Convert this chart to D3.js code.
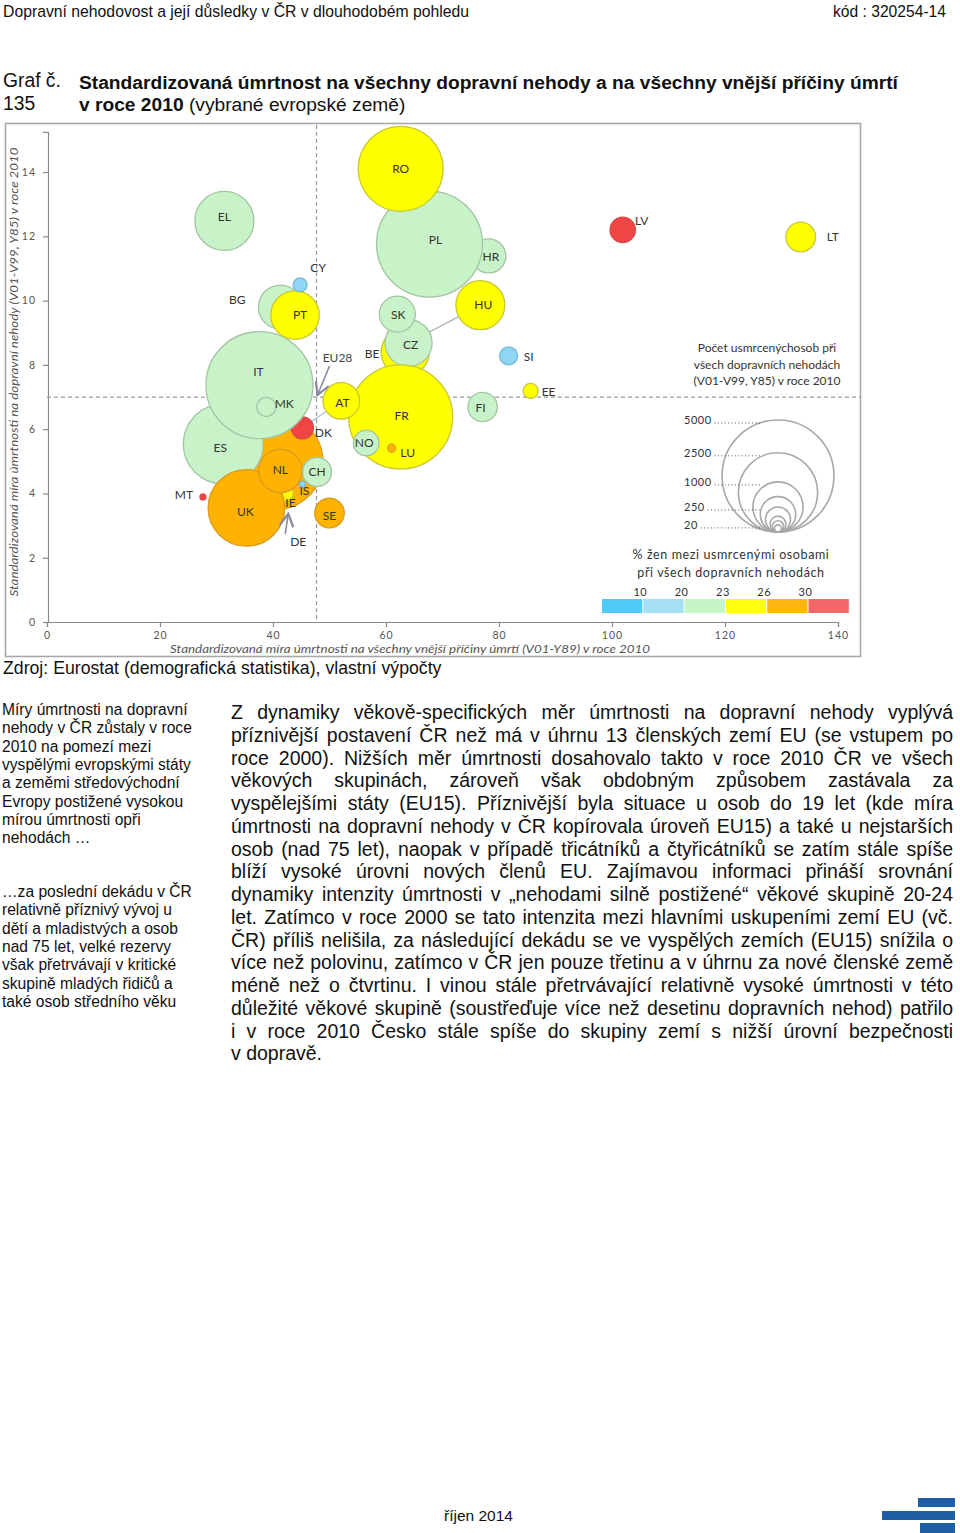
<!DOCTYPE html>
<html><head><meta charset="utf-8">
<script src="https://cdn.jsdelivr.net/npm/d3@7"></script>
<style>
html,body{margin:0;padding:0;background:#fff;}
svg{display:block;}
</style></head>
<body>
<svg id="page" width="960" height="1533"></svg>
<script>
// ---------------- DATA ----------------
const codes = ["HR","PL","RO","EL","DE","IE","DK","ES","IT","MK","BG","PT","CY","UK","NL","IS","CH","SE","MT","BE","CZ","SK","HU","FR","AT","NO","LU","FI","SI","EE","LV","LT"];
// x: standardised mortality, all external causes (V01-Y89)
const externalMortality = [78.2,67.7,62.6,31.4,40.4,42.2,45.2,31.2,37.6,38.8,41.3,43.9,44.8,35.3,41.3,45.2,47.8,50.0,27.6,63.4,64.0,62.0,76.7,62.6,52.1,56.5,61.0,77.1,81.7,85.6,101.9,133.4];
// y: standardised mortality, traffic accidents (V01-V99, Y85)
const roadMortality = [11.39,11.76,14.1,12.48,4.98,4.01,6.04,5.54,7.37,6.69,9.8,9.55,10.49,3.55,4.70,4.29,4.67,3.39,3.89,8.4,8.68,9.58,9.86,6.38,6.88,5.57,5.41,6.69,8.28,7.19,12.2,11.98];
// bubble size: number of road deaths 2010
const roadDeaths = [460,4480,2880,1390,3650,100,195,2550,4560,145,770,940,78,2340,750,14,335,350,14,920,880,517,957,4310,534,261,25,345,129,90,257,349];
// colour: % women among road deaths
const womenPct = [21.5,21.5,24.5,21.5,28,24.5,32,21.5,21.5,21.5,21.5,24.5,15,28,28,15,21.5,28,32,24.5,21.5,21.5,24.5,24.5,24.5,21.5,28,21.5,15,24.5,32,24.5];
const euX = 47.7, euY = 7.0; // EU28 reference
const xTicks = [0,20,40,60,80,100,120,140];
const yTicks = [0,2,4,6,8,10,12,14];
const sizeLegendValues = [5000,2500,1000,500,250,100,50,20];
const sizeLegendLabels = [5000,2500,1000,250,20];
const colorThresholds = [10,20,23,26,30];
const connectors = [["HU","CZ"],["DK","AT"]];

// ---------------- STYLE / LAYOUT ----------------
const fills   = ["#4cc6f2","#8fd6f5","#c8f3c8","#ffff00","#ffb300","#f04545"];
const strokes = ["#3aa8d8","#7ab8d8","#a3c4a3","#c8c832","#dc9a22","#d84a4a"];
const legendFills = ["#4fc9f5","#a6def5","#c5f5c5","#ffff10","#ffb610","#f26868"];
const labelOffsets = {
  BG:[-43,-7], CY:[18,-17], MK:[18,-3], DK:[21,5], IS:[2,7], IE:[5,10], MT:[-19,-2],
  DE:[23,80], LU:[16,5], BE:[-33,2], SI:[20,1], EE:[18,1], LV:[19,-9], LT:[32,0],
  IT:[-1,-13], PL:[6,-4], HR:[2,1], UK:[-1,4], PT:[5,0], EL:[0,-4], SE:[0,3], ES:[-3,4],
  NL:[0,-1], AT:[1,2], FR:[1,-1], CZ:[2,2], SK:[1,1], HU:[3,0], FI:[-2,1], NO:[-2,0]
};
const FN = "Lato, 'Open Sans', sans-serif";
const AR = "'Liberation Sans', Arial, sans-serif";

const svg = d3.select("#page");

// header (narrow face emulated by compressing Liberation Sans)
svg.append("text").attr("x",3).attr("y",17).attr("font-family",AR).attr("font-size",17).attr("fill","#111")
  .attr("textLength",466).attr("lengthAdjust","spacingAndGlyphs")
  .text("Dopravní nehodovost a její důsledky v ČR v dlouhodobém pohledu");
svg.append("text").attr("x",833).attr("y",17).attr("font-family",AR).attr("font-size",17).attr("fill","#111")
  .attr("textLength",113).attr("lengthAdjust","spacingAndGlyphs")
  .text("kód : 320254-14");

// title
svg.append("text").attr("x",3).attr("y",87).attr("font-family",AR).attr("font-size",19.3).attr("fill","#111").text("Graf č.");
svg.append("text").attr("x",3).attr("y",110).attr("font-family",AR).attr("font-size",19.3).attr("fill","#111").text("135");
svg.append("text").attr("x",79).attr("y",89).attr("font-family",AR).attr("font-size",19.2).attr("font-weight","bold").attr("fill","#111")
  .text("Standardizovaná úmrtnost na všechny dopravní nehody a na všechny vnější příčiny úmrtí");
const t2 = svg.append("text").attr("x",79).attr("y",111).attr("font-family",AR).attr("font-size",19.2).attr("fill","#111");
t2.append("tspan").attr("font-weight","bold").text("v roce 2010");
t2.append("tspan").text(" (vybrané evropské země)");

// chart frame
svg.append("rect").attr("x",5.5).attr("y",123.5).attr("width",855).attr("height",533)
  .attr("fill","none").attr("stroke","#a8a8a8").attr("stroke-width",1.6);

// scales
const x = d3.scaleLinear().domain([0,140]).range([47,838]);
const y = d3.scaleLinear().domain([0,15.25]).range([622,131.9]);
const r = d3.scaleSqrt().domain([0,5000]).range([0,56]);
const col = d3.scaleThreshold().domain(colorThresholds).range(fills);
const colS = d3.scaleThreshold().domain(colorThresholds).range(strokes);

// axes
const gx = svg.append("g").attr("transform",`translate(0,${y(0)})`)
  .call(d3.axisBottom(x).tickValues(xTicks).tickSize(5).tickPadding(5).tickFormat(d3.format("d")));
const gy = svg.append("g").attr("transform",`translate(${x(0)+1},0)`)
  .call(d3.axisLeft(y).tickValues(yTicks).tickSize(5).tickPadding(7).tickFormat(d3.format("d")));
[gx,gy].forEach(g=>{
  g.selectAll("path,line").attr("stroke","#8a8a8a").attr("stroke-width",1.2);
  g.selectAll("text").attr("font-family",FN).attr("font-size",10.5).attr("fill","#555").attr("letter-spacing","1px");
});

// axis titles
svg.append("text").attr("x",410).attr("y",653).attr("text-anchor","middle").attr("font-family",FN)
  .attr("font-style","italic").attr("font-size",11.5).attr("fill","#555")
  .attr("textLength",480).attr("lengthAdjust","spacingAndGlyphs")
  .text("Standardizovaná míra úmrtnosti na všechny vnější příčiny úmrtí (V01-Y89) v roce 2010");
svg.append("text").attr("transform","translate(18,372) rotate(-90)").attr("text-anchor","middle").attr("font-family",FN)
  .attr("font-style","italic").attr("font-size",11.5).attr("fill","#555")
  .attr("textLength",449).attr("lengthAdjust","spacingAndGlyphs")
  .text("Standardizovaná míra úmrtnosti na dopravní nehody (V01-V99, Y85) v roce 2010");

// EU28 reference lines
svg.append("line").attr("x1",x(euX)).attr("x2",x(euX)).attr("y1",125).attr("y2",y(0))
  .attr("stroke","#9a9a9a").attr("stroke-width",1.2).attr("stroke-dasharray","4,3");
svg.append("line").attr("x1",x(0)).attr("x2",860).attr("y1",y(euY)).attr("y2",y(euY))
  .attr("stroke","#9a9a9a").attr("stroke-width",1.2).attr("stroke-dasharray","4,3");

// bubbles
const data = codes.map((c,i)=>({code:c, x:externalMortality[i], y:roadMortality[i], d:roadDeaths[i], w:womenPct[i]}));
const byCode = Object.fromEntries(data.map(d=>[d.code,d]));

// connectors (drawn below bubbles)
connectors.forEach(([a,b])=>{
  const A=byCode[a], B=byCode[b];
  const ax=x(A.x), ay=y(A.y), bx=x(B.x), by=y(B.y);
  const dx=bx-ax, dy=by-ay, L=Math.hypot(dx,dy);
  svg.append("line").attr("x1",ax+dx/L*r(A.d)).attr("y1",ay+dy/L*r(A.d))
    .attr("x2",bx-dx/L*(r(B.d)-2)).attr("y2",by-dy/L*(r(B.d)-2))
    .attr("stroke", a==="HU"?"#b0b0b0":"#a8c8e0").attr("stroke-width",1.3);
});

svg.append("g").selectAll("circle").data(data).join("circle")
  .attr("cx",d=>x(d.x)).attr("cy",d=>y(d.y)).attr("r",d=>r(d.d))
  .attr("fill",d=>col(d.w)).attr("stroke",d=>colS(d.w)).attr("stroke-width",1.3);

// labels
svg.append("g").selectAll("text").data(data).join("text")
  .attr("x",d=>x(d.x)+(labelOffsets[d.code]||[0,0])[0])
  .attr("y",d=>y(d.y)+(labelOffsets[d.code]||[0,0])[1])
  .attr("dy","0.36em").attr("text-anchor","middle")
  .attr("font-family",FN).attr("font-size",12).attr("fill","#333")
  .text(d=>d.code);

// arrows
const defs = svg.append("defs");
defs.append("marker").attr("id","arr").attr("viewBox","0 0 10 10").attr("refX",9).attr("refY",5)
  .attr("markerWidth",9).attr("markerHeight",9).attr("orient","auto")
  .append("path").attr("d","M0,0 L9,5 L0,10").attr("fill","none").attr("stroke","#8a8aa0").attr("stroke-width",1.6);
svg.append("text").attr("x",x(euX)+21).attr("y",y(euY)-39).attr("dy","0.36em").attr("text-anchor","middle")
  .attr("font-family",FN).attr("font-size",12).attr("fill","#444").text("EU28");
svg.append("line").attr("x1",x(euX)+13).attr("y1",y(euY)-31).attr("x2",x(euX)+1).attr("y2",y(euY)-2)
  .attr("stroke","#8a8aa0").attr("stroke-width",1.6).attr("marker-end","url(#arr)");
const DE = byCode.DE;
svg.append("line").attr("x1",x(DE.x)+10).attr("y1",y(DE.y)+72).attr("x2",x(DE.x)+13).attr("y2",y(DE.y)+r(DE.d)+4)
  .attr("stroke","#8a8aa0").attr("stroke-width",1.6).attr("marker-end","url(#arr)");

// size legend
const lg = svg.append("g");
["Počet usmrcenýchosob při","všech dopravních nehodách","(V01-V99, Y85) v roce 2010"].forEach((t,i)=>{
  lg.append("text").attr("x",767).attr("y",352+i*16.5).attr("text-anchor","middle")
    .attr("font-family",FN).attr("font-size",12).attr("fill","#333").text(t);
});
const lcx = 778, lby = 532;
lg.selectAll("circle").data(sizeLegendValues).join("circle")
  .attr("cx",lcx).attr("cy",v=>lby-r(v)).attr("r",v=>r(v))
  .attr("fill","none").attr("stroke","#a8a8a8").attr("stroke-width",1.6);
sizeLegendLabels.forEach(v=>{
  const yy = lby-2*r(v);
  const t = lg.append("text").attr("x",684).attr("y",yy).attr("dy","0.36em")
    .attr("font-family",FN).attr("font-size",11).attr("fill","#333").attr("letter-spacing","0.5px").text(v);
  const w = t.node().getComputedTextLength();
  lg.append("line").attr("x1",684+w+3).attr("x2",lcx-18).attr("y1",yy+3).attr("y2",yy+3)
    .attr("stroke","#555").attr("stroke-width",1).attr("stroke-dasharray","1,2.4");
});

// colour legend
["% žen mezi usmrcenými osobami","při všech dopravních nehodách"].forEach((t,i)=>{
  lg.append("text").attr("x",731).attr("y",559+i*18).attr("text-anchor","middle")
    .attr("font-family",FN).attr("font-size",12.5).attr("fill","#333").attr("letter-spacing","0.6px").text(t);
});
const segW = 41.3, barX = 602;
legendFills.forEach((c,i)=>{
  lg.append("rect").attr("x",barX+i*segW).attr("y",599).attr("width",segW-1).attr("height",14).attr("fill",c);
});
colorThresholds.forEach((v,i)=>{
  lg.append("text").attr("x",barX+(i+1)*segW-3).attr("y",592).attr("dy","0.36em").attr("text-anchor","middle")
    .attr("font-family",FN).attr("font-size",11).attr("fill","#333").attr("letter-spacing","0.5px").text(v);
});

// source
svg.append("text").attr("x",3).attr("y",674).attr("font-family",AR).attr("font-size",17.7).attr("fill","#111")
  .text("Zdroj: Eurostat (demografická statistika), vlastní výpočty");

// sidebar text
const side1 = ["Míry úmrtnosti na dopravní","nehody v ČR zůstaly v roce","2010 na pomezí mezi","vyspělými evropskými státy","a zeměmi středovýchodní","Evropy postižené vysokou","mírou úmrtnosti opři","nehodách …"];
const side2 = ["…za poslední dekádu v ČR","relativně příznivý vývoj u","dětí a mladistvých a osob","nad 75 let, velké rezervy","však přetrvávají v kritické","skupině mladých řidičů a","také osob středního věku"];
side1.forEach((t,i)=>svg.append("text").attr("x",2).attr("y",715+i*18.3).attr("font-family",AR).attr("font-size",15.6).attr("fill","#111").text(t));
side2.forEach((t,i)=>svg.append("text").attr("x",2).attr("y",897+i*18.3).attr("font-family",AR).attr("font-size",15.6).attr("fill","#111").text(t));

// body justified text
const body = [
"Z dynamiky věkově-specifických měr úmrtnosti na dopravní nehody vyplývá",
"příznivější postavení ČR než má v úhrnu 13 členských zemí EU (se vstupem po",
"roce 2000). Nižších měr úmrtnosti dosahovalo takto v roce 2010 ČR ve všech",
"věkových skupinách, zároveň však obdobným způsobem zastávala za",
"vyspělejšími státy (EU15). Příznivější byla situace u osob do 19 let (kde míra",
"úmrtnosti na dopravní nehody v ČR kopírovala úroveň EU15) a také u nejstarších",
"osob (nad 75 let), naopak v případě třicátníků a čtyřicátníků se zatím stále spíše",
"blíží vysoké úrovni nových členů EU. Zajímavou informaci přináší srovnání",
"dynamiky intenzity úmrtnosti v „nehodami silně postižené“ věkové skupině 20-24",
"let. Zatímco v roce 2000 se tato intenzita mezi hlavními uskupeními zemí EU (vč.",
"ČR) příliš nelišila, za následující dekádu se ve vyspělých zemích (EU15) snížila o",
"více než polovinu, zatímco v ČR jen pouze třetinu a v úhrnu za nové členské země",
"méně než o čtvrtinu. I vinou stále přetrvávající relativně vysoké úmrtnosti v této",
"důležité věkové skupině (soustřeďuje více než desetinu dopravních nehod) patřilo",
"i v roce 2010 Česko stále spíše do skupiny zemí s nižší úrovní bezpečnosti",
"v dopravě."];
const bx0 = 231, bx1 = 953, bFs = 19.5;
body.forEach((line,li)=>{
  const yy = 719 + li*22.75;
  const words = line.split(" ");
  const g = svg.append("g");
  const nodes = words.map(w=>g.append("text").attr("y",yy).attr("font-family",AR).attr("font-size",bFs).attr("fill","#111").text(w));
  const widths = nodes.map(n=>n.node().getComputedTextLength());
  const total = d3.sum(widths);
  const last = li===body.length-1;
  const gap = last ? 5.4 : (bx1-bx0-total)/(words.length-1);
  let cx = bx0;
  nodes.forEach((n,i)=>{ n.attr("x",cx); cx += widths[i]+gap; });
});

// footer
svg.append("text").attr("x",444).attr("y",1521).attr("font-family",AR).attr("font-size",15.5).attr("fill","#111").text("říjen 2014");
svg.append("rect").attr("x",918).attr("y",1498).attr("width",37).attr("height",9).attr("fill","#1f5fa6");
svg.append("rect").attr("x",882).attr("y",1511).attr("width",73).attr("height",9).attr("fill","#1f5fa6");
svg.append("rect").attr("x",920).attr("y",1523).attr("width",35).attr("height",10).attr("fill","#1f5fa6");
</script>
</body></html>
